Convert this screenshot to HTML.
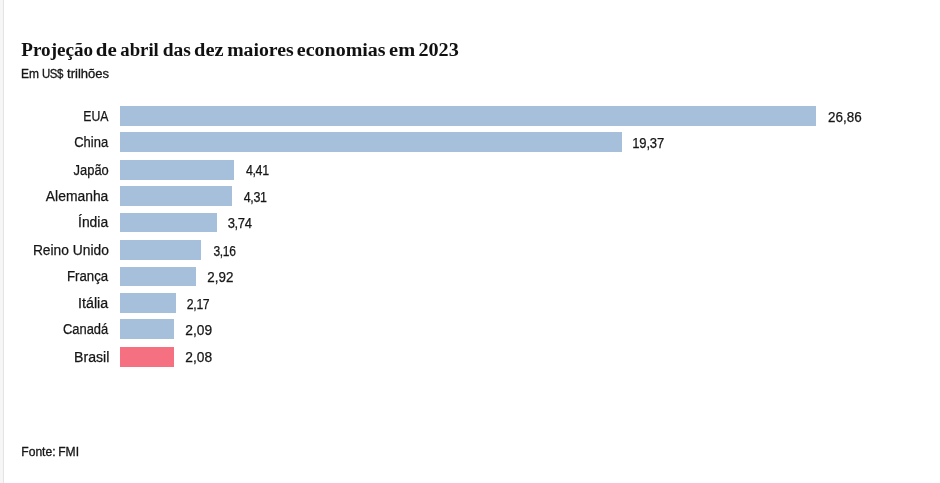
<!DOCTYPE html>
<html lang="pt-BR">
<head>
<meta charset="utf-8">
<title>Projeção de abril das dez maiores economias em 2023</title>
<style>
html,body{margin:0;padding:0;background:#fff;}
body{width:940px;height:483px;position:relative;overflow:hidden;font-family:"Liberation Sans",sans-serif;color:#161616;-webkit-text-stroke:0.25px #161616;}
.edge{position:absolute;left:0;top:0;width:3px;height:483px;background:#f6f6f6;border-right:1px solid #e4e4e4;}
h1,p,.lab,.val{position:absolute;left:0;top:0;width:0;height:0;margin:0;white-space:nowrap;}
h1 span,p span,.lab span,.val span{position:absolute;left:0;top:0;transform-origin:0 0;}
h1{font:bold 18.5px/22px "Liberation Serif",serif;color:#111;-webkit-text-stroke:0px #fff;}
p{font:12px/16px "Liberation Sans",sans-serif;-webkit-text-stroke-width:0.3px;}
.lab,.val{font:14px/20px "Liberation Sans",sans-serif;}
.bar{position:absolute;left:120px;background:#a6bfdb;}
.bar.hl{background:#f57080;}

</style>
</head>
<body>
<div class="edge"></div>
<h1><span style="transform:translate(21.31px,39px) scaleX(1.0325)">Projeção</span> <span style="transform:translate(95.85px,39px) scaleX(1.1304)">de</span> <span style="transform:translate(120.27px,39px) scaleX(1.0128)">abril</span> <span style="transform:translate(162.71px,39px) scaleX(1.0549)">das</span> <span style="transform:translate(194.07px,39px) scaleX(1.1020)">dez</span> <span style="transform:translate(227.17px,39px) scaleX(1.0672)">maiores</span> <span style="transform:translate(296.83px,39px) scaleX(1.0798)">economias</span> <span style="transform:translate(389.11px,39px) scaleX(1.1006)">em</span> <span style="transform:translate(418.38px,39px) scaleX(1.0919)">2023</span></h1>
<p class="sub"><span style="transform:translate(20.98px,66px) scaleX(0.9970)">Em</span> <span style="letter-spacing:-0.400px;transform:translate(41.89px,66px) scaleX(0.9517)">US$</span> <span style="transform:translate(67.10px,66px) scaleX(1.0866)">trilhões</span></p>
<div class="chart">
<div class="row"><div class="lab"><span style="transform:translate(83.32px,106px) scaleX(0.8753)">EUA</span></div><div class="bar" style="top:106px;width:696px;height:20px"></div><div class="val"><span style="transform:translate(828.10px,107px) scaleX(0.9594)">26,86</span></div></div>
<div class="row"><div class="lab"><span style="transform:translate(74.22px,132px) scaleX(0.9273)">China</span></div><div class="bar" style="top:132px;width:502px;height:20px"></div><div class="val"><span style="letter-spacing:-0.149px;transform:translate(632.17px,133px) scaleX(0.9308)">19,37</span></div></div>
<div class="row"><div class="lab"><span style="transform:translate(73.58px,160px) scaleX(0.9227)">Japão</span></div><div class="bar" style="top:160px;width:114px;height:20px"></div><div class="val"><span style="letter-spacing:-0.400px;transform:translate(245.88px,160px) scaleX(0.8911)">4,41</span></div></div>
<div class="row"><div class="lab"><span style="transform:translate(45.82px,186px) scaleX(0.9913)">Alemanha</span></div><div class="bar" style="top:186px;width:112px;height:20px"></div><div class="val"><span style="letter-spacing:-0.400px;transform:translate(243.78px,187px) scaleX(0.8911)">4,31</span></div></div>
<div class="row"><div class="lab"><span style="transform:translate(78.03px,212px) scaleX(0.9924)">Índia</span></div><div class="bar" style="top:213px;width:97px;height:19px"></div><div class="val"><span style="letter-spacing:-0.345px;transform:translate(227.65px,213px) scaleX(0.9288)">3,74</span></div></div>
<div class="row"><div class="lab"><span style="transform:translate(32.91px,240px) scaleX(0.9851)">Reino Unido</span></div><div class="bar" style="top:240px;width:81px;height:20px"></div><div class="val"><span style="letter-spacing:-0.400px;transform:translate(213.48px,241px) scaleX(0.8597)">3,16</span></div></div>
<div class="row"><div class="lab"><span style="transform:translate(66.95px,266px) scaleX(0.9450)">França</span></div><div class="bar" style="top:267px;width:76px;height:19px"></div><div class="val"><span style="transform:translate(207.30px,267px) scaleX(0.9577)">2,92</span></div></div>
<div class="row"><div class="lab"><span style="transform:translate(78.06px,293px) scaleX(1.0166)">Itália</span></div><div class="bar" style="top:293px;width:56px;height:20px"></div><div class="val"><span style="letter-spacing:-0.400px;transform:translate(186.85px,294px) scaleX(0.8764)">2,17</span></div></div>
<div class="row"><div class="lab"><span style="transform:translate(62.92px,319px) scaleX(0.9237)">Canadá</span></div><div class="bar" style="top:319px;width:54px;height:20px"></div><div class="val"><span style="transform:translate(185.29px,320px) scaleX(0.9837)">2,09</span></div></div>
<div class="row"><div class="lab"><span style="transform:translate(74.09px,347px) scaleX(1.0075)">Brasil</span></div><div class="bar hl" style="top:347px;width:54px;height:20px"></div><div class="val"><span style="transform:translate(185.29px,347px) scaleX(0.9837)">2,08</span></div></div>
</div>
<p class="src"><span style="transform:translate(21.22px,444px) scaleX(1.0109)">Fonte:</span> <span style="transform:translate(58.22px,444px) scaleX(1.0066)">FMI</span></p>
</body>
</html>
